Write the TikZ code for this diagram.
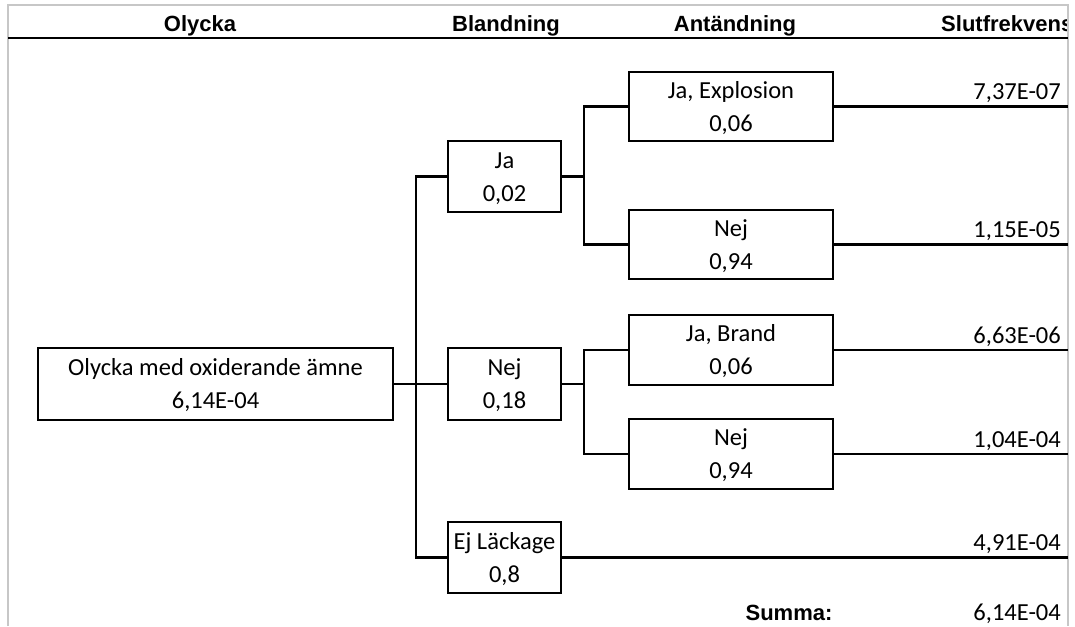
\documentclass[tikz,border=0pt]{standalone}
\usepackage{fontspec}
\setmainfont{Carlito}
\newfontfamily\hfont{Liberation Sans}
\begin{document}
\begin{tikzpicture}[x=1pt,y=-1pt,
  box/.style={draw, line width=2.8pt, inner sep=0pt, align=flush center,
    font=\fontsize{24.5}{33}\selectfont, text height=16pt, text depth=33pt},
  conn/.style={line width=2.8pt},
  val/.style={anchor=base east, inner sep=0pt, font=\fontsize{24.5}{28}\selectfont},
  hdr/.style={anchor=base, inner sep=0pt, font=\hfont\bfseries\fontsize{22}{26}\selectfont}]
\useasboundingbox (0,0) rectangle (1075,626);
% frame
\draw[black!22, line width=1.6pt] (8,626) -- (8,5) -- (1068,5) -- (1068,626);
\draw[line width=2.2pt] (8,38) -- (1068,38);
% headers
\node[hdr] (h1) at (200,32) {Olycka};
\node[hdr] (h2) at (506,32) {Blandning};
\node[hdr] (h3) at (735,32) {Antändning};
\begin{scope}
\clip (8,0) rectangle (1066,38);
\node[hdr, anchor=base west] (h4) at (941,32) {Slutfrekvens};
\end{scope}
% coordinates
\coordinate (t0) at (416,0);
\coordinate (tA) at (584,0);
\coordinate (rb) at (1068,0);
% boxes
\node[box, minimum width=355pt, minimum height=72pt, text width=349pt] (root) at (215.5,384) {Olycka med oxiderande ämne\\6,14E-04};
\node[box, minimum width=113pt, minimum height=71pt, text width=109pt] (ja) at (504.5,176.5) {Ja\\0,02};
\node[box, minimum width=113pt, minimum height=72pt, text width=109pt] (nej) at (504.5,384) {Nej\\0,18};
\node[box, minimum width=113pt, minimum height=71pt, text width=109pt] (ejl) at (504.5,557.5) {Ej Läckage\\0,8};
\node[box, minimum width=204pt, minimum height=69pt, text width=198pt] (jaexp) at (731,106.5) {Ja, Explosion\\0,06};
\node[box, minimum width=204pt, minimum height=69pt, text width=198pt] (nejA) at (731,244.5) {Nej\\0,94};
\node[box, minimum width=204pt, minimum height=70pt, text width=198pt] (jabr) at (731,350) {Ja, Brand\\0,06};
\node[box, minimum width=204pt, minimum height=70pt, text width=198pt] (nejB) at (731,454) {Nej\\0,94};
% connectors
\draw[conn] (root.east) -- (nej.west);
\draw[conn] (ja.west) -- (ja.west -| t0) |- (ejl.west);
\draw[conn] (ja.east) -- (ja.east -| tA);
\draw[conn] (jaexp.west) -- (jaexp.west -| tA) |- (nejA.west);
\draw[conn] (nej.east) -- (nej.east -| tA);
\draw[conn] (jabr.west) -- (jabr.west -| tA) |- (nejB.west);
\draw[conn] (jaexp.east) -- (jaexp.east -| rb);
\draw[conn] (nejA.east) -- (nejA.east -| rb);
\draw[conn] (jabr.east) -- (jabr.east -| rb);
\draw[conn] (nejB.east) -- (nejB.east -| rb);
\draw[conn] (ejl.east) -- (ejl.east -| rb);
% values
\node[val] (v1) at (1061,99) {7,37E-07};
\node[val] (v2) at (1061,237) {1,15E-05};
\node[val] (v3) at (1061,343) {6,63E-06};
\node[val] (v4) at (1061,447) {1,04E-04};
\node[val] (v5) at (1061,550) {4,91E-04};
\node[hdr] (summa) at (789,620) {Summa:};
\node[val] (sumv) at (1061,620) {6,14E-04};
\end{tikzpicture}
\end{document}
